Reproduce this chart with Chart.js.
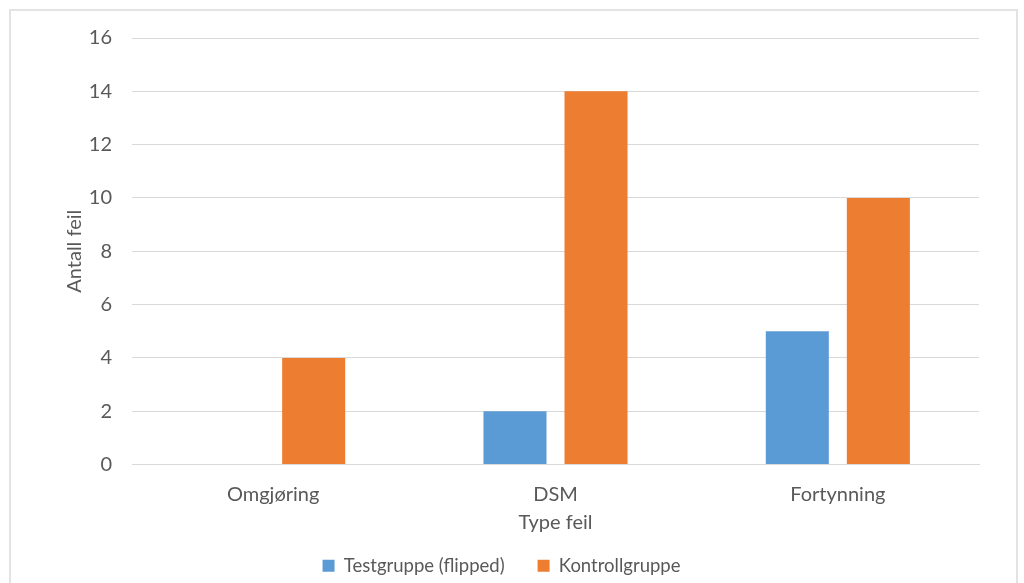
<!DOCTYPE html>
<html><head><meta charset="utf-8">
<script src="https://cdn.jsdelivr.net/npm/chart.js@4"></script>
<style>
html,body{margin:0;padding:0;background:#fff;}
#wrap{position:absolute;left:0;top:0;width:1024px;height:583px;}
#frame{position:absolute;left:9px;top:9px;width:1009px;height:590px;border:2px solid #e3e3e3;box-sizing:border-box;pointer-events:none;}
</style></head>
<body>
<div id="wrap"><canvas id="c" width="1024" height="583"></canvas><div id="frame"></div></div>
<script>
const categories = ["Omgjøring", "DSM", "Fortynning"];
const testgruppe = [0, 2, 5];
const kontrollgruppe = [4, 14, 10];
const seriesNames = ["Testgruppe (flipped)", "Kontrollgruppe"];
const yTitle = "Antall feil";
const xTitle = "Type feil";

const txt = "#595959";
const fam = "Lato, 'Open Sans', sans-serif";
new Chart(document.getElementById('c'), {
  type: 'bar',
  data: {
    labels: categories,
    datasets: [
      {label: seriesNames[0], data: testgruppe, backgroundColor: '#5B9BD5', borderWidth: 0, categoryPercentage: 0.574, barPercentage: 0.778},
      {label: seriesNames[1], data: kontrollgruppe, backgroundColor: '#ED7D31', borderWidth: 0, categoryPercentage: 0.574, barPercentage: 0.778}
    ]
  },
  options: {
    responsive: false,
    animation: false,
    layout: {padding: {left: 24, right: 45, top: 38, bottom: -2}},
    plugins: {
      legend: {
        position: 'bottom',
        labels: {boxWidth: 12, boxHeight: 12, color: txt, font: {family: fam, size: 18.5}, padding: 33}
      },
      tooltip: {enabled: false}
    },
    scales: {
      x: {
        afterFit: s => { s.height = 59; },
        grid: {display: false, drawTicks: false},
        border: {display: true, color: '#d9d9d9'},
        ticks: {color: txt, font: {family: fam, size: 20}, padding: 18},
        title: {display: true, text: xTitle, color: txt, font: {family: fam, size: 20}, padding: {top: 0, bottom: -11}}
      },
      y: {
        min: 0, max: 16,
        afterFit: s => { s.width = 108; },
        grid: {color: '#d9d9d9', drawTicks: false},
        border: {display: false},
        ticks: {stepSize: 2, color: txt, font: {family: fam, size: 20}, padding: 20},
        title: {display: true, text: yTitle, color: txt, font: {family: fam, size: 20}, padding: {top: 39, bottom: 5}}
      }
    }
  }
});
</script>
</body></html>
